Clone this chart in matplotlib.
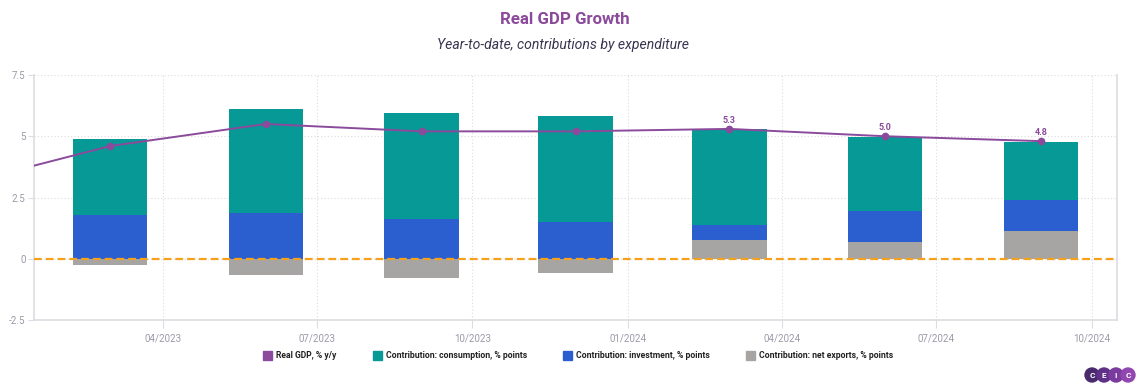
import matplotlib
matplotlib.use("Agg")
import matplotlib.pyplot as plt
import matplotlib.dates as mdates
from matplotlib.patches import Rectangle, Circle
import numpy as np
import pandas as pd

# data (year-to-date)
gdp_dates = pd.to_datetime(['2022-12-01', '2023-03-01', '2023-06-01', '2023-09-01',
                            '2023-12-01', '2024-03-01', '2024-06-01', '2024-09-01'])
gdp_yy = [3.0, 4.6, 5.5, 5.2, 5.2, 5.3, 5.0, 4.8]

bar_dates = pd.to_datetime(['2023-03-01', '2023-06-01', '2023-09-01', '2023-12-01',
                            '2024-03-01', '2024-06-01', '2024-09-01'])
consumption = [3.11, 4.25, 4.33, 4.30, 3.90, 3.02, 2.37]
investment = [1.78, 1.88, 1.62, 1.52, 0.63, 1.27, 1.27]
net_exports = [-0.24, -0.67, -0.77, -0.59, 0.76, 0.69, 1.14]

legend_labels = ['Real GDP, % y/y', 'Contribution: consumption, % points',
                 'Contribution: investment, % points', 'Contribution: net exports, % points']

purple = '#8b4a9b'
teal = '#079996'
blue = '#2b5fcf'
grey = '#a6a5a4'
orange = '#f5a11c'
tick_col = '#9b9aa8'

plt.rcParams['font.family'] = ['Roboto', 'DejaVu Sans']

fig = plt.figure(figsize=(11.4, 3.9), dpi=100)
ax = fig.add_axes([34/1140, 1 - 320/390, (1117 - 34)/1140, 245/390])

# stacked bars: negatives go below zero, positives stack from zero
ne = np.array(net_exports)
inv = np.array(investment)
con = np.array(consumption)
pos_ne = np.where(ne > 0, ne, 0)
w = 44
ax.bar(bar_dates, ne, width=w, color=grey, zorder=2)
ax.bar(bar_dates, inv, width=w, bottom=pos_ne, color=blue, zorder=2)
ax.bar(bar_dates, con, width=w, bottom=pos_ne + inv, color=teal, zorder=2)

ax.axhline(0, color=orange, lw=1.6, dashes=(3.5, 1.8), zorder=3)

ax.plot(gdp_dates, gdp_yy, color=purple, lw=1.4, marker='o', ms=4.5, zorder=4)
for d, v in zip(gdp_dates[-3:], gdp_yy[-3:]):
    ax.annotate(f'{v:.1f}', (d, v), xytext=(0, 3), textcoords='offset points',
                ha='center', va='bottom', fontsize=6.5, fontweight='bold', color=purple)

ax.set_ylim(-2.5, 7.5)
ax.set_yticks([-2.5, 0, 2.5, 5, 7.5])
ax.set_yticklabels(['-2.5', '0', '2.5', '5', '7.5'])
ax.set_xlim(pd.Timestamp('2023-01-15'), pd.Timestamp('2024-10-16'))
ax.set_xticks(pd.to_datetime(['2023-04-01', '2023-07-01', '2023-10-01', '2024-01-01',
                              '2024-04-01', '2024-07-01', '2024-10-01']))
ax.xaxis.set_major_formatter(mdates.DateFormatter('%m/%Y'))

ax.grid(True, color='#dcdcdc', lw=0.8, ls=(0, (1, 2)), zorder=0)
ax.spines['top'].set_visible(False)
for s in ['left', 'bottom', 'right']:
    ax.spines[s].set_color('#dcdce2')
    ax.spines[s].set_linewidth(1.2)
ax.tick_params(axis='x', length=6, color='#dcdce2', labelsize=7, labelcolor=tick_col, pad=4)
ax.tick_params(axis='y', length=4, color='#dcdce2', labelsize=7, labelcolor=tick_col, pad=2)

fig.text(565/1140, 1 - 20/390, 'Real GDP Growth', ha='center', va='center',
         fontsize=12.2, fontweight='bold', color=purple)
fig.text(563/1140, 1 - 45/390, 'Year-to-date, contributions by expenditure', ha='center',
         va='center', fontsize=10.1, style='italic', color='#3a3450')

# legend drawn by hand to match the spacing
leg_x = [263, 373, 563, 746]
leg_c = [purple, teal, blue, grey]
for x, c, lab in zip(leg_x, leg_c, legend_labels):
    fig.patches.append(Rectangle((x/1140, 1 - 360/390), 9/1140, 9/390,
                                 transform=fig.transFigure, color=c))
    fig.text((x + 13)/1140, 1 - 355.5/390, lab, ha='left', va='center',
             fontsize=6.2, fontweight='bold', color='#222222')

# CEIC logo
lax = fig.add_axes([1084/1140, 1 - 384/390, 52/1140, 18/390])
lax.set_xlim(0, 52)
lax.set_ylim(0, 18)
lax.set_aspect('equal')
lax.axis('off')
logo_cols = ['#4a2a6e', '#5e3088', '#7a3a9e', '#9147b0']
for i, (c, ch) in enumerate(zip(logo_cols, 'CEIC')):
    lax.add_patch(Circle((8 + i*12, 9), 7, color=c))
    lax.text(8 + i*12, 9, ch, ha='center', va='center', fontsize=6,
             fontweight='bold', color='white')

fig.savefig('out.png', dpi=100)
